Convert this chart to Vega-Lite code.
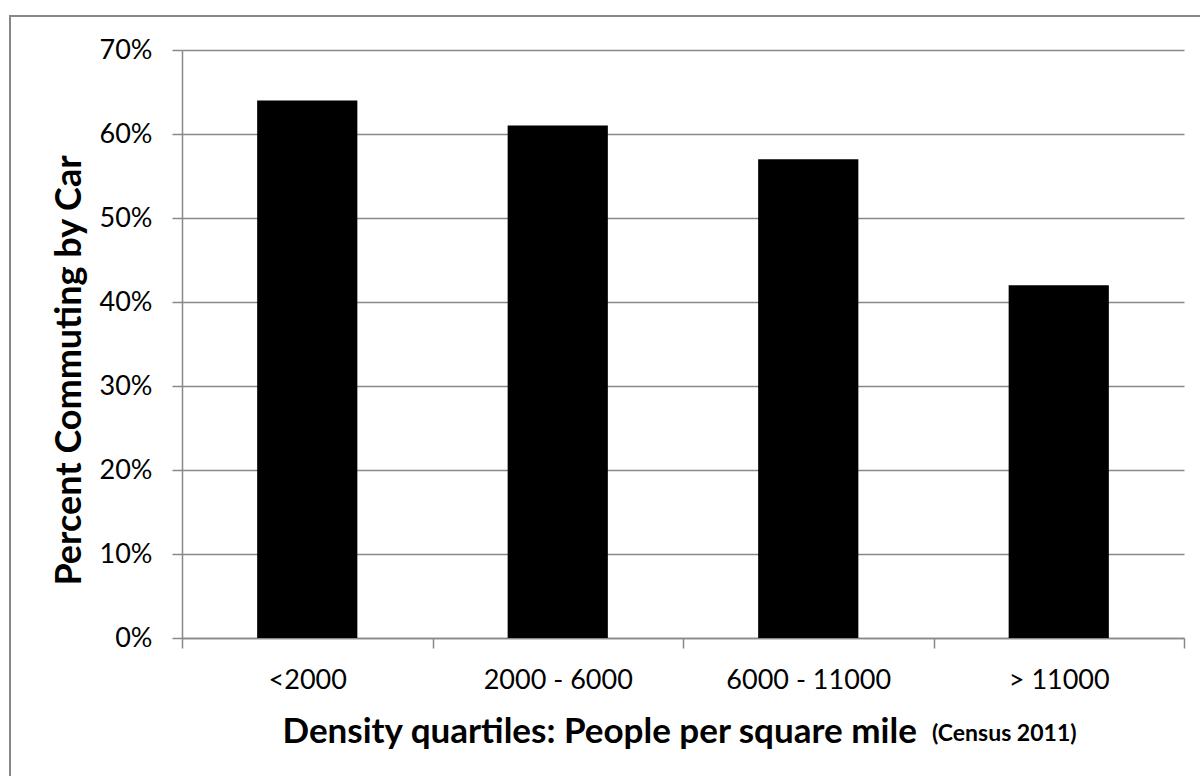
{
  "$schema": "https://vega.github.io/schema/vega-lite/v6.json",
  "width": 1192,
  "height": 762,
  "autosize": {"type": "none"},
  "padding": {"left": 10, "top": 16, "right": -2, "bottom": -2},
  "background": "white",
  "data": {
    "values": [
      {"density": "<2000", "pct": 0.64},
      {"density": "2000 - 6000", "pct": 0.61},
      {"density": "6000 - 11000", "pct": 0.57},
      {"density": "> 11000", "pct": 0.42}
    ]
  },
  "mark": {"type": "bar", "color": "black", "width": {"band": 0.4}},
  "encoding": {
    "x": {
      "field": "density",
      "type": "nominal",
      "sort": null,
      "scale": {"range": [172, 1174], "paddingInner": 0, "paddingOuter": 0},
      "axis": {
        "title": "Density quartiles: People per square mile",
        "labelAngle": 0,
        "offset": -140,
        "tickBand": "extent",
        "tickSize": 10,
        "tickColor": "#888",
        "tickWidth": 1.5,
        "domainColor": "#888",
        "domainWidth": 1.5,
        "grid": false,
        "labelPadding": 19,
        "labelFontSize": 27,
        "labelColor": "black",
        "titleFontSize": 35,
        "titleFontWeight": "bold",
        "titleColor": "black",
        "titleAlign": "left",
        "titleBaseline": "alphabetic",
        "titleX": 272,
        "titleY": 104
      }
    },
    "y": {
      "field": "pct",
      "type": "quantitative",
      "scale": {"domain": [0, 0.7], "range": [622, 34], "nice": false, "zero": true},
      "axis": {
        "title": "Percent Commuting by Car",
        "format": ".0%",
        "values": [0, 0.1, 0.2, 0.3, 0.4, 0.5, 0.6, 0.7],
        "offset": -172,
        "tickSize": 10,
        "tickColor": "#888",
        "tickWidth": 1.5,
        "domainColor": "#888",
        "domainWidth": 1.5,
        "grid": true,
        "gridColor": "#888",
        "gridWidth": 1.5,
        "gridOpacity": 1,
        "labelPadding": 20,
        "labelFontSize": 27,
        "labelColor": "black",
        "titleFontSize": 36,
        "titleFontWeight": "bold",
        "titleColor": "black",
        "titleBaseline": "alphabetic",
        "titleAlign": "center",
        "titleAngle": -90,
        "titleX": -102,
        "titleY": 354
      }
    }
  },
  "title": {
    "text": "(Census 2011)",
    "orient": "top",
    "anchor": "start",
    "frame": "group",
    "offset": 0,
    "dx": 922,
    "dy": 748,
    "baseline": "alphabetic",
    "fontSize": 23,
    "fontWeight": "bold",
    "color": "black",
    "font": "Lato"
  },
  "config": {
    "font": "Lato",
    "view": {"stroke": "#888", "strokeWidth": 2}
  }
}
